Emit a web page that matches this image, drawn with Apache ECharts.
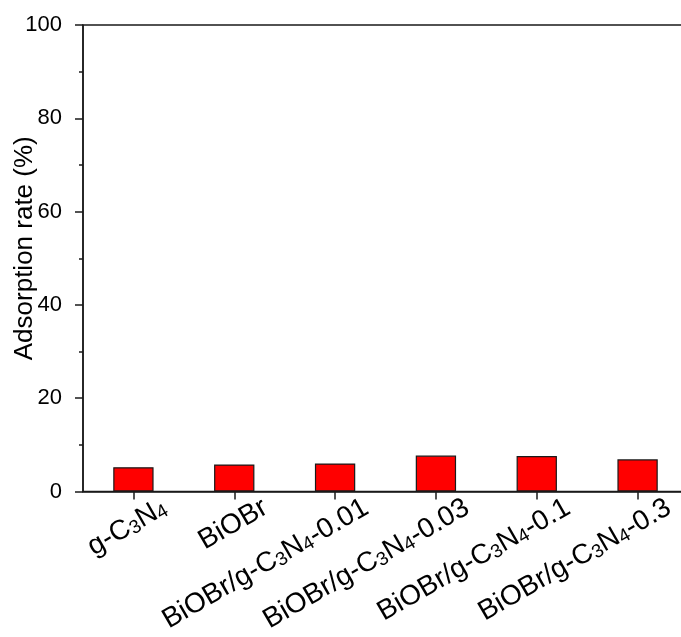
<!DOCTYPE html>
<html>
<head>
<meta charset="utf-8">
<script src="https://cdn.jsdelivr.net/npm/echarts@6/dist/echarts.min.js"></script>
<style>
  html, body { margin: 0; padding: 0; background: #fff; }
  #chart { width: 681px; height: 637px; }
</style>
</head>
<body>
<div id="chart"></div>
<script>
// Sample names; digits after C and N are rendered as subscripts
const categories = ['g-C3N4', 'BiOBr', 'BiOBr/g-C3N4-0.01', 'BiOBr/g-C3N4-0.03', 'BiOBr/g-C3N4-0.1', 'BiOBr/g-C3N4-0.3'];
// Adsorption rate of each sample (%)
const adsorptionRate = [5.2, 5.8, 6.0, 7.7, 7.6, 6.9];
// Y axis range and tick step
const yMin = 0;
const yMax = 100;
const yStep = 20;

const FONT = '"Liberation Sans", Arial, sans-serif';
const INK = '#1a1a1a';

// Turn "C3N4" into rich-text with subscript digits
function subscriptFormula(name) {
  return name.replace(/([CN])(\d)/g, '$1{s|$2}').replace(/(^|\})([^{}]+?)(?=\{|$)/g, function (m, p, t) {
    return p + '{m|' + t + '}';
  });
}

const chart = echarts.init(document.getElementById('chart'), null, { renderer: 'canvas' });

chart.setOption({
  animation: false,
  backgroundColor: '#ffffff',
  grid: {
    left: 83,
    top: 25,
    right: -7,
    bottom: 145.5,
    containLabel: false,
    outerBoundsMode: 'none',
    show: true,
    borderColor: INK,
    borderWidth: 1.5,
    backgroundColor: 'transparent'
  },
  xAxis: {
    type: 'category',
    data: categories,
    boundaryGap: true,
    axisLine: { show: true, lineStyle: { color: INK, width: 1.5 } },
    axisTick: { show: true, alignWithLabel: true, inside: false, length: 8, lineStyle: { color: INK, width: 1.5 } },
    axisLabel: {
      interval: 0,
      rotate: 30,
      margin: 30,
      hideOverlap: false,
      color: '#000',
      fontFamily: FONT,
      fontSize: 28,
      padding: [0, -35, 0, 0],
      formatter: function (v) { return subscriptFormula(v); },
      rich: {
        m: { fontFamily: FONT, fontSize: 28, color: '#000', lineHeight: 32, verticalAlign: 'bottom' },
        s: { fontFamily: FONT, fontSize: 19, color: '#000', lineHeight: 32, verticalAlign: 'bottom' }
      }
    },
    splitLine: { show: false }
  },
  yAxis: {
    type: 'value',
    min: yMin,
    max: yMax,
    interval: yStep,
    name: 'Adsorption rate (%)',
    nameLocation: 'middle',
    nameGap: 45,
    nameMoveOverlap: false,
    nameTextStyle: { fontFamily: FONT, fontSize: 26, color: '#000', padding: [0, 0, 0, 20] },
    axisLine: { show: true, lineStyle: { color: INK, width: 1.5 } },
    axisTick: { show: true, inside: false, length: 8, lineStyle: { color: INK, width: 1.5 } },
    minorTick: { show: true, splitNumber: 2, length: 4, lineStyle: { color: INK, width: 1.5 } },
    axisLabel: { margin: 21, color: '#000', fontFamily: FONT, fontSize: 22 },
    splitLine: { show: false }
  },
  series: [{
    type: 'bar',
    data: adsorptionRate,
    barWidth: '40%',
    itemStyle: { color: '#ff0000', borderColor: INK, borderWidth: 1.2 }
  }]
});
</script>
</body>
</html>
